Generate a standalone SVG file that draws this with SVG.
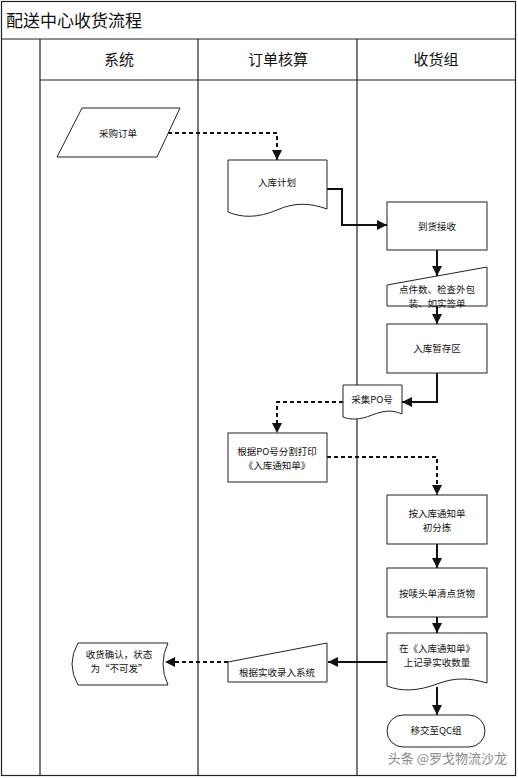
<svg xmlns="http://www.w3.org/2000/svg" width="518" height="778" viewBox="0 0 518 778">
<defs>
<style>
.frame{fill:none;stroke:#222;stroke-width:1.2}
.shape{fill:#fff;stroke:#222;stroke-width:1}
.t{font-family:"Noto Sans CJK SC","Noto Sans",sans-serif;font-size:9.5px;fill:#111;text-anchor:middle}
.h{font-family:"Noto Sans CJK SC","Noto Sans",sans-serif;font-size:15px;fill:#111;text-anchor:middle}
.solid{fill:none;stroke:#111;stroke-width:2}
.dash{fill:none;stroke:#111;stroke-width:2;stroke-dasharray:4 3}
</style>
<marker id="arr" markerUnits="userSpaceOnUse" markerWidth="12" markerHeight="12" refX="10" refY="5" orient="auto">
<path d="M0,0 L10,5 L0,10 Z" fill="#111"/>
</marker>
</defs>
<rect x="0" y="0" width="518" height="778" fill="#fff"/>
<g id="frame">
<rect class="frame" x="1.5" y="1.5" width="514" height="774"/>
<line class="frame" x1="1.5" y1="39" x2="515.5" y2="39"/>
<line class="frame" x1="40" y1="80" x2="515.5" y2="80"/>
<line class="frame" x1="40" y1="39" x2="40" y2="775.5"/>
<line class="frame" x1="198" y1="39" x2="198" y2="775.5"/>
<line class="frame" x1="357" y1="39" x2="357" y2="775.5"/>
<text x="6" y="27" style="font-family:'Noto Sans CJK SC',sans-serif;font-size:17px;fill:#111">配送中心收货流程</text>
<text class="h" x="119" y="65">系统</text>
<text class="h" x="278" y="65">订单核算</text>
<text class="h" x="436" y="65">收货组</text>
</g>
<g id="connectors">
<polyline class="dash" points="168,133 277,133 277,160" marker-end="url(#arr)"/>
<polyline class="solid" points="327,189 342,189 342,225 387,225" marker-end="url(#arr)"/>
<polyline class="solid" points="437,250 437,276" marker-end="url(#arr)"/>
<polyline class="solid" points="437,306 437,324" marker-end="url(#arr)"/>
<polyline class="solid" points="437,373 437,402 402,402" marker-end="url(#arr)"/>
<polyline class="dash" points="343,402 277,402 277,433" marker-end="url(#arr)"/>
<polyline class="dash" points="327,457 437,457 437,495" marker-end="url(#arr)"/>
<polyline class="solid" points="437,544 437,568" marker-end="url(#arr)"/>
<polyline class="solid" points="437,617 437,633" marker-end="url(#arr)"/>
<polyline class="solid" points="437,687 437,715" marker-end="url(#arr)"/>
<polyline class="solid" points="387,662 328,662" marker-end="url(#arr)"/>
<polyline class="dash" points="228,662 165,662" marker-end="url(#arr)"/>
</g>
<g id="n1">
<polygon class="shape" points="82,108 180,108 157,157 57,157"/>
<text class="t" x="118" y="137">采购订单</text>
</g>
<g id="n2">
<path class="shape" d="M228,160 H327 V209 C310,203 295,202 277,210 C258,218 242,218 228,212 Z"/>
<text class="t" x="277" y="186">入库计划</text>
</g>
<g id="n3">
<rect class="shape" x="387" y="202" width="100" height="48"/>
<text class="t" x="437" y="230">到货接收</text>
</g>
<g id="n4">
<polygon class="shape" points="387,285 487,267 487,306 387,306"/>
<text class="t" x="437" y="293">点件数、检查外包</text>
<text class="t" x="437" y="307">装、如实签单</text>
</g>
<g id="n5">
<rect class="shape" x="387" y="324" width="100" height="49"/>
<text class="t" x="437" y="352">入库暂存区</text>
</g>
<g id="n6">
<path class="shape" d="M343,385 H402 V414 C393,410 385,410 372,415 C360,420 350,420 343,417 Z"/>
<text class="t" x="372" y="403">采集PO号</text>
</g>
<g id="n7">
<rect class="shape" x="228" y="433" width="99" height="49"/>
<text class="t" x="277" y="455">根据PO号分割打印</text>
<text class="t" x="277" y="469">《入库通知单》</text>
</g>
<g id="n8">
<rect class="shape" x="387" y="495" width="100" height="49"/>
<text class="t" x="437" y="517">按入库通知单</text>
<text class="t" x="437" y="531">初分拣</text>
</g>
<g id="n9">
<rect class="shape" x="387" y="568" width="100" height="49"/>
<text class="t" x="437" y="597">按唛头单清点货物</text>
</g>
<g id="n10">
<path class="shape" d="M387,633 H487 V683 C470,678 455,677 437,684 C418,691 402,692 387,686 Z"/>
<text class="t" x="437" y="652">在《入库通知单》</text>
<text class="t" x="437" y="666">上记录实收数量</text>
</g>
<g id="n11">
<rect class="shape" x="387" y="715" width="98" height="32" rx="16" ry="16"/>
<text class="t" x="436" y="734">移交至QC组</text>
</g>
<g id="n12">
<polygon class="shape" points="228,662 327,643 327,682 228,682"/>
<text class="t" x="277" y="676">根据实收录入系统</text>
</g>
<g id="n13">
<path class="shape" d="M78,643 H168 Q158,664 168,685 H78 Q66,664 78,643 Z"/>
<text class="t" x="119" y="658">收货确认，状态</text>
<text class="t" x="119" y="672">为“不可发”</text>
</g>
<text x="507" y="763" style="font-family:'Noto Sans CJK SC',sans-serif;font-size:13px;fill:#888;text-anchor:end">头条 @罗戈物流沙龙</text>
</svg>
